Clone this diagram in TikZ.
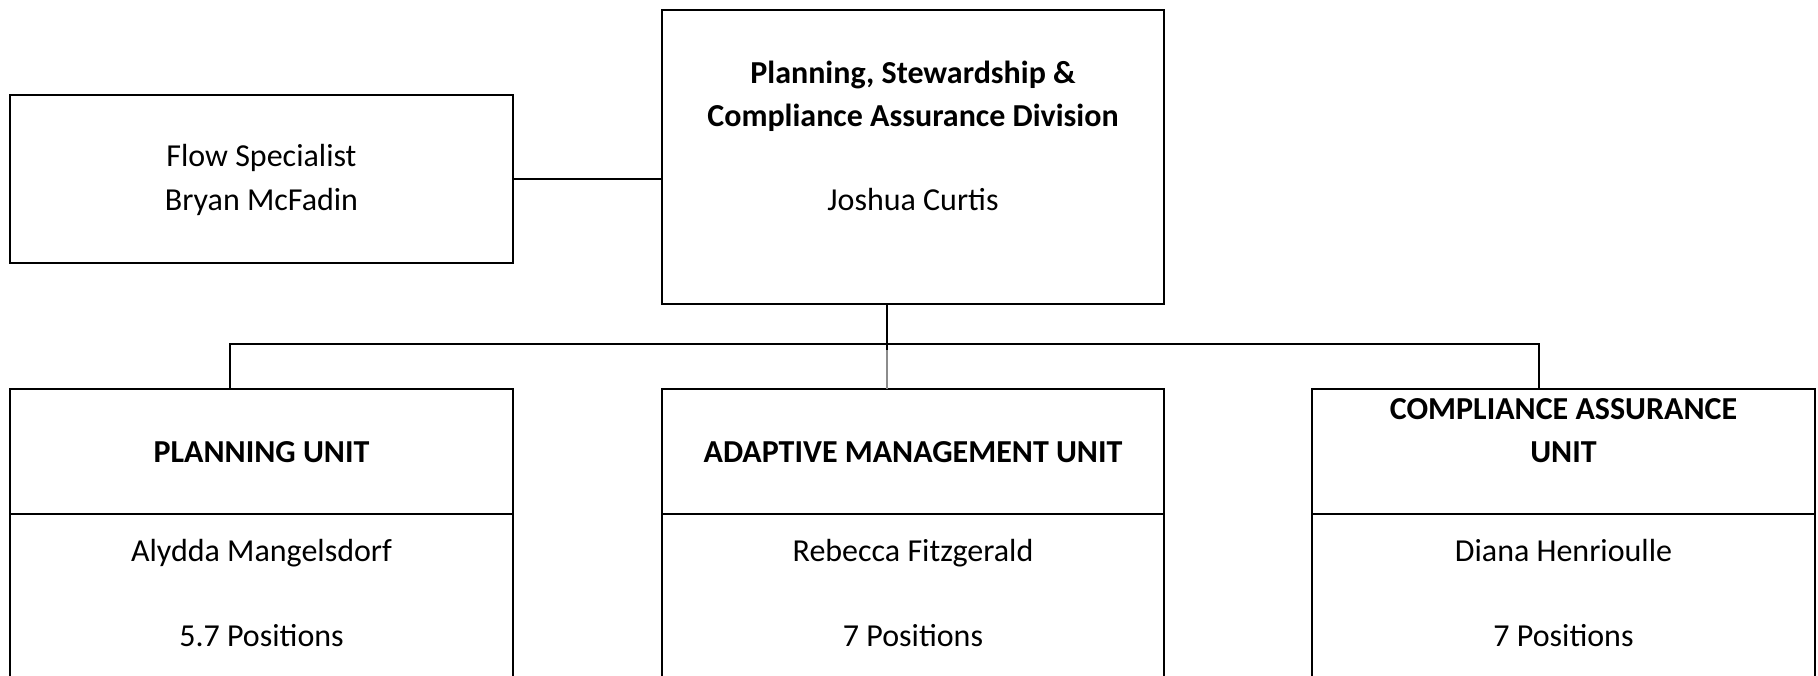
\documentclass[tikz,border=0pt]{standalone}
\usepackage{fontspec}
\setmainfont{Carlito}
\usetikzlibrary{calc}
\begin{document}
\begin{tikzpicture}[x=1pt,y=-1pt,
  line width=1.6pt,
  orgbox/.style={draw, rectangle, inner sep=0pt, outer sep=0pt, minimum width=#1},
  orgbox/.default=503pt,
  lbl/.style={anchor=base, inner sep=0pt, font=\fontsize{32}{43}\selectfont},
  bold lbl/.style={lbl, font=\fontsize{32}{43}\selectfont\bfseries},
  link/.style={draw=black, line width=1.6pt},
  greylink/.style={draw=black!45, line width=1.6pt}]
\useasboundingbox (0,0) rectangle (1818,675);
\clip (0,0) rectangle (1818,675);

% boxes
\node[orgbox, minimum height=168pt] (flow) at (261.5,179) {};
\node[orgbox=502pt, minimum height=294pt] (top) at (913,157) {};
\node[orgbox, minimum height=331pt] (pu) at (261.5,554.6) {};
\node[orgbox=502pt, minimum height=331pt] (am) at (913,554.6) {};
\node[orgbox, minimum height=331pt] (cu) at (1563.5,554.6) {};

% dividers
\draw ($(pu.north west)+(0,124.7)$) -- ($(pu.north east)+(0,124.7)$);
\draw ($(am.north west)+(0,124.7)$) -- ($(am.north east)+(0,124.7)$);
\draw ($(cu.north west)+(0,124.7)$) -- ($(cu.north east)+(0,124.7)$);

% texts
\node[lbl] (flowa) at (261.5,166.7) {Flow Specialist};
\node[lbl] (flowb) at (261.5,210.7) {Bryan McFadin};
\node[bold lbl] (topa) at (913,83.3) {Planning, Stewardship \&};
\node[bold lbl] (topb) at (913,126) {Compliance Assurance Division};
\node[lbl] (topc) at (913,210.7) {Joshua Curtis};

\node[bold lbl] (put) at (261.5,462.7) {PLANNING UNIT};
\node[lbl] (pun) at (261.5,561.7) {Alydda Mangelsdorf};
\node[lbl] (pup) at (261.5,646.7) {5.7 Positions};

\node[bold lbl] (amt) at (913,462.7) {ADAPTIVE MANAGEMENT UNIT};
\node[lbl] (amn) at (913,561.7) {Rebecca Fitzgerald};
\node[lbl] (amp) at (913,646.7) {7 Positions};

\node[bold lbl] (cut1) at (1563.5,419.3) {COMPLIANCE ASSURANCE};
\node[bold lbl] (cut2) at (1563.5,462.7) {UNIT};
\node[lbl] (cun) at (1563.5,561.7) {Diana Henrioulle};
\node[lbl] (cup) at (1563.5,646.7) {7 Positions};

% connectors
\draw[link] (flow.east) -- (top.west |- flow.east);
\coordinate (tdown) at ($(top.south)+(-26,0)$);
\coordinate (busmid) at ($(tdown)+(0,40)$);
\coordinate (amtop) at (tdown |- am.north);
\coordinate (pudrop) at ($(pu.north)+(-31.5,0)$);
\coordinate (cudrop) at ($(cu.north)+(-24.5,0)$);
\coordinate (busl) at (pudrop |- busmid);
\coordinate (busr) at (cudrop |- busmid);
\draw[link] (tdown) -- ($(busmid)+(0,6)$);
\draw[greylink] ($(busmid)+(0,6)$) -- (amtop);
\draw[link] (pudrop) -- (busl) -- (busr) -- (cudrop);
\end{tikzpicture}
\end{document}
